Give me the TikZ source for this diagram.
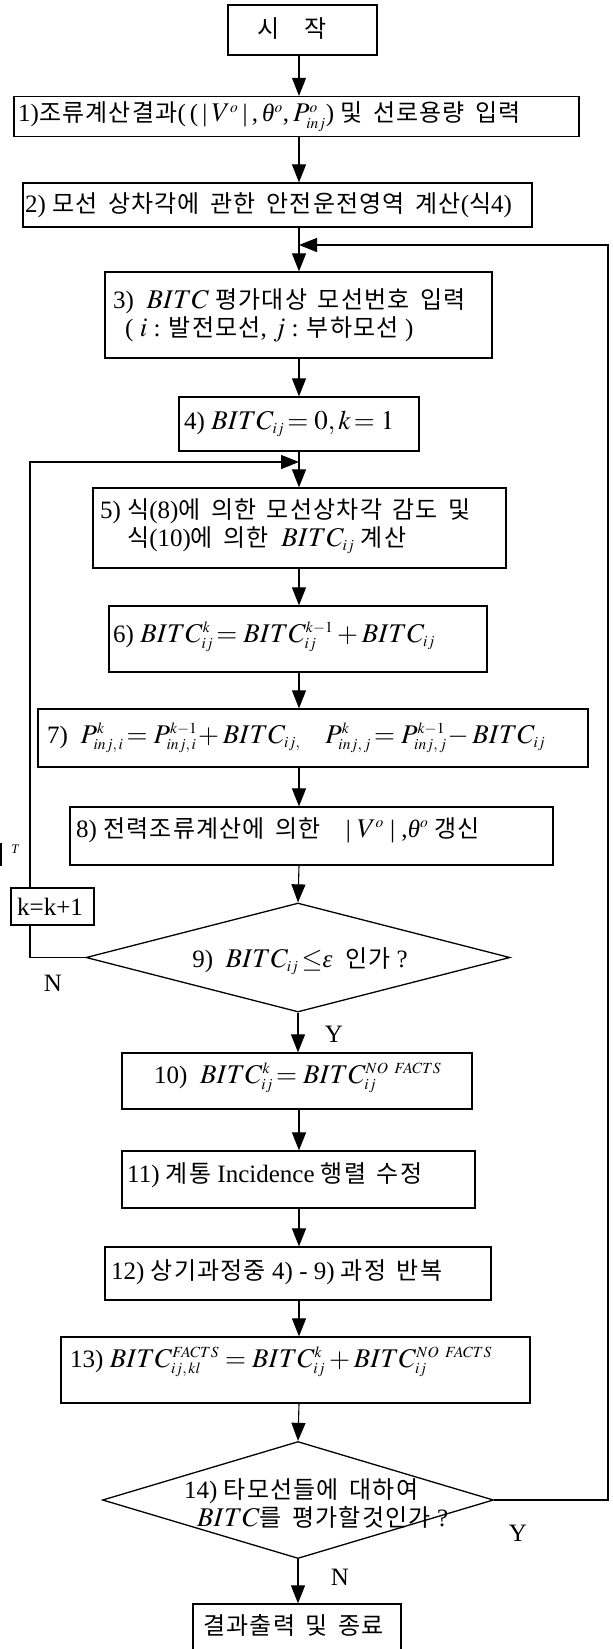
\documentclass[tikz,border=0pt]{standalone}
\usepackage{mathptmx}
\usepackage[no-math]{fontspec}
\setmainfont{Liberation Serif}
\newfontfamily\krfont[WordSpace=1.6,LetterSpace=5]{Noto Sans CJK KR}
\newcommand\K[1]{{\krfont\fontsize{24}{28}\selectfont #1}}
\newcommand\gr[1]{\textit{#1}}
\DeclareMathSizes{25}{27}{15.5}{12}
\usetikzlibrary{arrows.meta,shapes.geometric}
\tikzset{
  bx/.style={draw, rectangle, inner sep=0pt, line width=1.3pt},
  dm/.style={draw, diamond, inner sep=0pt, line width=1.3pt},
  tx/.style={inner sep=0pt, anchor=west, align=left, font=\fontsize{25}{28}\selectfont},
  lbl/.style={inner sep=0pt, font=\fontsize{25}{28}\selectfont},
  arr/.style={-{Triangle[length=18pt,width=14pt]}, line width=1.1pt},
  ln/.style={line width=1.1pt},
}
\begin{document}
\begin{tikzpicture}[x=1pt, y=-1pt]
\useasboundingbox (0,0) rectangle (613,1649);
\clip (0,0) rectangle (613,1649);
\coordinate (X) at (299,0);
\coordinate (Lx) at (30,462);
\coordinate (Rx) at (608,245);
% boxes
\node[bx, minimum width=149pt, minimum height=50pt] (st) at (302.5,30) {};
\node[bx, minimum width=565pt, minimum height=40pt] (b1) at (296.5,116.5) {};
\node[bx, minimum width=509pt, minimum height=44pt] (b2) at (277.5,205) {};
\node[bx, minimum width=387pt, minimum height=86pt] (b3) at (298.5,315) {};
\node[bx, minimum width=240pt, minimum height=54pt] (b4) at (299,424) {};
\node[bx, minimum width=413pt, minimum height=80pt] (b5) at (299.5,528) {};
\node[bx, minimum width=378pt, minimum height=66pt] (b6) at (298,639) {};
\node[bx, minimum width=550pt, minimum height=58pt] (b7) at (313,738) {};
\node[bx, minimum width=483pt, minimum height=58pt] (b8) at (311.5,836) {};
\node[bx, minimum width=83pt, minimum height=37pt] (kb) at (52.5,906.5) {};
\node[dm, minimum width=424pt, minimum height=109pt] (d9) at (298,957.5) {};
\node[bx, minimum width=350pt, minimum height=56pt] (b10) at (297,1081) {};
\node[bx, minimum width=353pt, minimum height=57pt] (b11) at (298.5,1179.5) {};
\node[bx, minimum width=386pt, minimum height=53pt] (b12) at (298,1273.5) {};
\node[bx, minimum width=469pt, minimum height=66pt] (b13) at (295.5,1370) {};
\node[dm, minimum width=391pt, minimum height=117pt] (d14) at (298,1500) {};
\node[bx, minimum width=208pt, minimum height=96pt] (en) at (297,1652) {};
% texts
\node[tx, anchor=center] (tst) at (292,29) {\K{시}\hspace{24pt}\K{작}};
\node[tx] (t1) at (18,117) {1)\K{조류계산결과}(\,(\,|\,$V^o$\,|\,,\,\gr{θ}$^o$,\,$P^o_{inj}$) \K{및 선로용량 입력}};
\node[tx] (t2) at (25,205) {2) \K{모선 상차각에 관한 안전운전영역 계산}(\K{식}4)};
\node[tx] (t3) at (113,315) {3)\ \ $BITC$ \K{평가대상 모선번호 입력}\\\hspace*{12pt}( $i$ : \K{발전모선}, $j$ : \K{부하모선} )};
\node[tx] (t4) at (184,424) {4) $BITC_{ij}\!=0, k\!=1$};
\node[tx] (t5) at (100,526) {5) \K{식}(8)\K{에 의한 모선상차각 감도 및}\\\hspace*{27pt}\K{식}(10)\K{에 의한}\ \ $BITC_{ij}$ \K{계산}};
\node[tx] (t6) at (113,637) {6) $BITC^k_{ij}\!= BITC^{k-1}_{ij} + BITC_{ij}$};
\node[tx] (t7) at (47,738) {7)\ \ $P^k_{inj,\,i}\!= P^{k-1}_{inj,\,i}\! + BITC_{ij,}\quad P^k_{inj,\,j}\!= P^{k-1}_{inj,\,j}\! - BITC_{ij}$};
\node[tx] (t8) at (76,830) {8) \K{전력조류계산에 의한}\quad | $V^o$ | ,\gr{θ}$^o$ \K{갱신}};
\node[tx] (tk) at (17,907) {k=k+1};
\node[tx, anchor=center] (t9) at (300,961) {9)\ \ $BITC_{ij}\!\le$\gr{ε}\ \ \K{인가} ?};
\node[tx] (t10) at (154,1078) {10)\ \ $BITC^k_{ij}\!= BITC^{NO\ FACTS}_{ij}$};
\node[tx] (t11) at (127,1175) {11) \K{계통} Incidence \K{행렬 수정}};
\node[tx] (t12) at (111,1272) {12) \K{상기과정중} 4) - 9) \K{과정 반복}};
\node[tx] (t13) at (70,1362) {13) $BITC^{FACTS}_{ij,\,kl} = BITC^k_{ij} + BITC^{NO\ FACTS}_{ij}$};
\node[tx] (t14) at (184,1503) {14) \K{타모선들에 대하여}\\\hspace*{13pt}$BITC$\K{를 평가할것인가} ?};
\node[tx] (ten) at (203,1625) {\K{결과출력 및 종료}};
% labels
\node[lbl] (y9) at (334,1034) {Y};
\node[lbl] (n9) at (53,983) {N};
\node[lbl] (y14) at (518,1533) {Y};
\node[lbl] (n14) at (340,1577) {N};
\node[inner sep=0pt, font=\fontsize{13}{15}\selectfont\itshape] (tt) at (15,849) {T};
\draw[ln] (1,843) -- (1,866);
% connectors
\draw[arr] (st.south -| X) -- (b1.north -| X);
\draw[arr] (b1.south -| X) -- (b2.north -| X);
\draw[arr] (b2.south -| X) -- (b3.north -| X);
\draw[arr] (b3.south -| X) -- (b4.north -| X);
\draw[arr] (b4.south -| X) -- (b5.north -| X);
\draw[arr] (b5.south -| X) -- (b6.north -| X);
\draw[arr] (b6.south -| X) -- (b7.north -| X);
\draw[arr] (b7.south -| X) -- (b8.north -| X);
\draw[arr] (b8.south -| X) -- (d9.north);
\draw[arr] (d9.south) -- (b10.north -| d9.south);
\draw[arr] (b10.south -| X) -- (b11.north -| X);
\draw[arr] (b11.south -| X) -- (b12.north -| X);
\draw[arr] (b12.south -| X) -- (b13.north -| X);
\draw[arr] (b13.south -| X) -- (d14.north);
\draw[arr] (d14.south) -- (en.north -| d14.south);
% loop back (N of 9)
\draw[ln] (d9.west) -| (kb.south -| Lx);
\draw[arr] (kb.north -| Lx) -- (Lx) -- (Lx -| X);
% return (Y of 14)
\draw[arr] (d14.east) -| (Rx) -- (Rx -| X);
\end{tikzpicture}
\end{document}
